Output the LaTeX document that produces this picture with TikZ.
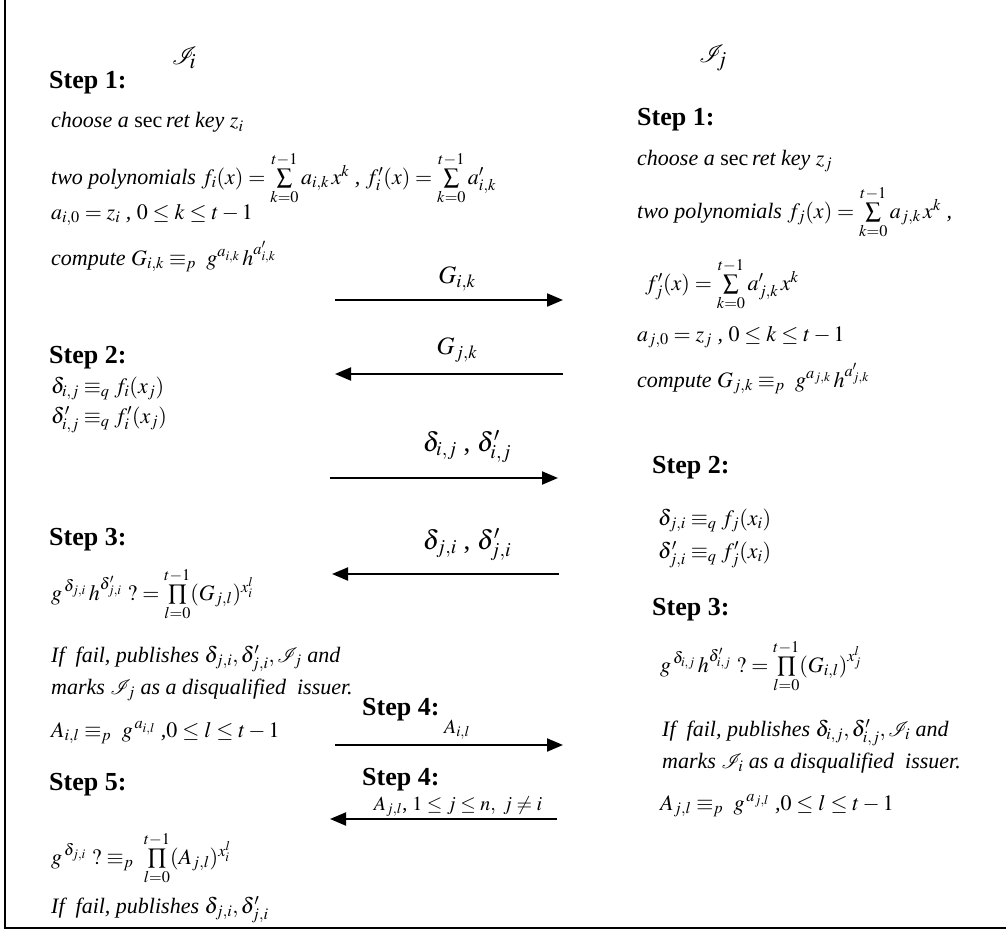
\documentclass[tikz,border=0pt]{standalone}
\usepackage{mathptmx}
\usepackage{mathrsfs}
\usepackage[no-math]{fontspec}
\setmainfont{Liberation Serif}
\usetikzlibrary{arrows.meta}
\tikzset{
  txt/.style={anchor=base west, inner sep=0pt, font=\fontsize{22}{26}\selectfont\itshape},
  hd/.style={anchor=base west, inner sep=0pt, font=\fontsize{26}{30}\selectfont\bfseries},
  lbl/.style={anchor=base, inner sep=0pt, font=\fontsize{25}{29}\selectfont},
  dlbl/.style={anchor=base, inner sep=0pt, font=\fontsize{27}{31}\selectfont},
  slbl/.style={anchor=base, inner sep=0pt, font=\fontsize{20}{24}\selectfont},
  party/.style={anchor=center, inner sep=0pt, font=\fontsize{29}{33}\selectfont},
  msg/.style={line width=2pt, -{Triangle[length=16pt,width=13pt]}},
  frame/.style={line width=2pt}
}
\begin{document}
\begin{tikzpicture}[x=1pt,y=-1pt]
\useasboundingbox (0,0) rectangle (1006,931);
% frame
\coordinate (ftop) at (5,0);
\coordinate (fcorner) at (5,928);
\coordinate (fright) at (1006,928);
\draw[frame] (ftop) -- (fcorner) -- (fright);

% parties
\node[party] (pi) at (184,58) {$\mathscr{I}_{\!i}$};
\node[party] (pj) at (713,58) {$\mathscr{I}_{\!j}$};

% left column
\node[hd] (ls1) at (49,89) {Step 1:};
\node[txt] (l1) at (51,128) {choose a {\upshape sec}\,ret key $z_i$};
\node[txt] (l2) at (51,184) {two polynomials $f_i(x)=\textstyle\sum\limits_{k=0}^{t-1}a_{i,k}\,x^k$ , $f_i^{\prime}(x)=\textstyle\sum\limits_{k=0}^{t-1}a_{i,k}^{\prime}$};
\node[txt] (l3) at (51,219) {$a_{i,0}=z_i$ , $0\le k\le t-1$};
\node[txt] (l4) at (51,265) {compute $G_{i,k}\equiv_p\ g^{a_{i,k}}\,h^{a_{i,k}^{\prime}}$};
\node[hd] (ls2) at (49,363) {Step 2:};
\node[txt] (l5) at (51,393) {$\delta_{i,j}\equiv_q f_i(x_j)$};
\node[txt] (l6) at (51,423) {$\delta_{i,j}'\equiv_q f_i'(x_j)$};
\node[hd] (ls3) at (49,545) {Step 3:};
\node[txt] (l7) at (51,600) {$g^{\,\delta_{j,i}}\,h^{\delta_{j,i}^{\prime}}\ ?=\textstyle\prod\limits_{l=0}^{t-1}(G_{j,l})^{x_i^l}$};
\node[txt] (l8) at (51,662) {If\ \ fail, publishes $\delta_{j,i},\delta_{j,i}^{\prime},\mathscr{I}_j$ and};
\node[txt] (l9) at (51,694) {marks $\mathscr{I}_j$ as a disqualified\ \ issuer.};
\node[txt] (l10) at (51,737) {$A_{i,l}\equiv_p\ g^{\,a_{i,l}}$ ,$0\le l\le t-1$};
\node[hd] (ls5) at (49,790) {Step 5:};
\node[txt] (l11) at (51,864) {$g^{\,\delta_{j,i}}\ ?\equiv_p\ \textstyle\prod\limits_{l=0}^{t-1}(A_{j,l})^{x_i^l}$};
\node[txt] (l12) at (51,913) {If\ \ fail, publishes $\delta_{j,i},\delta_{j,i}^{\prime}$};

% right column
\node[hd] (rs1) at (637,125) {Step 1:};
\node[txt] (r1) at (637,165) {choose a {\upshape sec}\,ret key $z_j$};
\node[txt] (r2) at (637,218) {two polynomials $f_j(x)=\textstyle\sum\limits_{k=0}^{t-1}a_{j,k}\,x^k$ ,};
\node[txt] (r3) at (645,290) {$f_j^{\prime}(x)=\textstyle\sum\limits_{k=0}^{t-1}a_{j,k}^{\prime}\,x^k$};
\node[txt] (r4) at (637,341) {$a_{j,0}=z_j$ , $0\le k\le t-1$};
\node[txt] (r5) at (637,387) {compute $G_{j,k}\equiv_p\ g^{a_{j,k}}\,h^{a_{j,k}^{\prime}}$};
\node[hd] (rs2) at (652,473) {Step 2:};
\node[txt] (r6) at (658,525) {$\delta_{j,i}\equiv_q f_j(x_i)$};
\node[txt] (r7) at (658,558) {$\delta_{j,i}'\equiv_q f_j'(x_i)$};
\node[hd] (rs3) at (652,615) {Step 3:};
\node[txt] (r8) at (660,672) {$g^{\,\delta_{i,j}}\,h^{\delta_{i,j}^{\prime}}\ ?=\textstyle\prod\limits_{l=0}^{t-1}(G_{i,l})^{x_j^l}$};
\node[txt] (r9) at (662,736) {If\ \ fail, publishes $\delta_{i,j},\delta_{i,j}^{\prime},\mathscr{I}_i$ and};
\node[txt] (r10) at (662,768) {marks $\mathscr{I}_i$ as a disqualified\ \ issuer.};
\node[txt] (r11) at (660,810) {$A_{j,l}\equiv_p\ g^{\,a_{j,l}}$ ,$0\le l\le t-1$};

% messages
\coordinate (m1s) at (335,300); \coordinate (m1e) at (563,300);
\coordinate (m2s) at (563,374); \coordinate (m2e) at (335,374);
\coordinate (m3s) at (330,478); \coordinate (m3e) at (558,478);
\coordinate (m4s) at (559,574); \coordinate (m4e) at (332,574);
\coordinate (m5s) at (335,745); \coordinate (m5e) at (563,745);
\coordinate (m6s) at (557,819); \coordinate (m6e) at (330,819);
\draw[msg] (m1s) -- (m1e);
\draw[msg] (m2s) -- (m2e);
\draw[msg] (m3s) -- (m3e);
\draw[msg] (m4s) -- (m4e);
\draw[msg] (m5s) -- (m5e);
\draw[msg] (m6s) -- (m6e);
\node[lbl] (t1) at (457,283) {$G_{i,k}$};
\node[lbl] (t2) at (457,354) {$G_{j,k}$};
\node[dlbl] (t3) at (467,451) {$\delta_{i,j}$ , $\delta_{i,j}^{\prime}$};
\node[dlbl] (t4) at (467,549) {$\delta_{j,i}$ , $\delta_{j,i}^{\prime}$};
\node[hd] (s4a) at (362,715) {Step 4:};
\node[slbl] (t5) at (457,733) {$A_{i,l}$};
\node[hd] (s4b) at (362,785) {Step 4:};
\node[slbl] (t6) at (458,810) {$A_{j,l}$, $1\le j\le n,\ j\ne i$};
\end{tikzpicture}
\end{document}
